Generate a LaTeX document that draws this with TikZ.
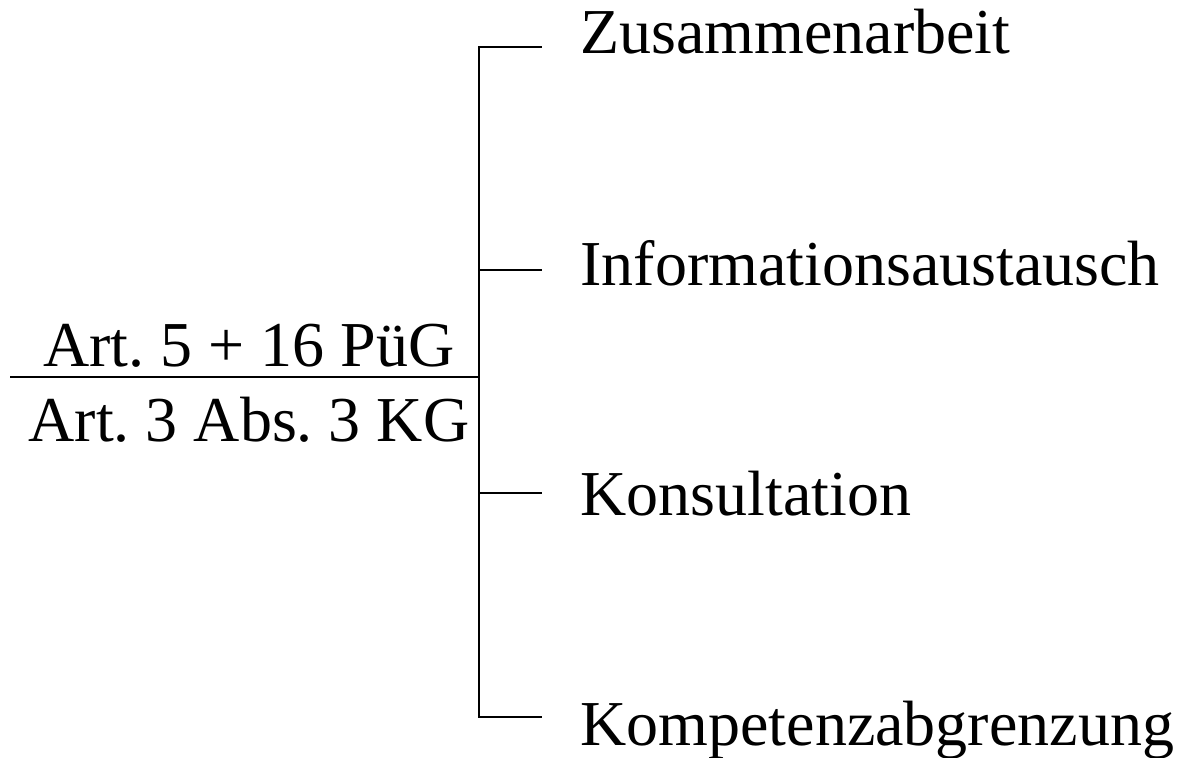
\documentclass[tikz,border=0pt]{standalone}
\usepackage{fontspec}
\setmainfont{Liberation Serif}
\usetikzlibrary{positioning}
\tikzset{
    law/.style={inner sep=0pt,anchor=base,font=\fontsize{32}{36}\selectfont},
    item/.style={inner sep=0pt,anchor=base west,font=\fontsize{32}{36}\selectfont},
    bar/.style={line width=1pt,line cap=rect},
}

\begin{document}
\begin{tikzpicture}[x=0.5pt,y=-0.5pt]
\useasboundingbox (0,0) rectangle (1178,758);

\node[law] (Pue) at (249,367) {Art.\ 5 + 16 PüG};
\node[law] (KG)  at (249,442) {Art.\ 3 Abs.\ 3 KG};

\coordinate (L)    at (11,377);
\coordinate (Fork) at (479,377);
\coordinate (B1) at (479,47);  \coordinate (E1) at (541,47);
\coordinate (B2) at (479,270); \coordinate (E2) at (541,270);
\coordinate (B3) at (479,493); \coordinate (E3) at (541,493);
\coordinate (B4) at (479,717); \coordinate (E4) at (541,717);

\node[item] (Zus)  at (580,54)  {Zusammenarbeit};
\node[item] (Info) at (580,286) {Informationsaustausch};
\node[item] (Kons) at (580,516) {Konsultation};
\node[item] (Komp) at (580,745) {Kompetenzabgrenzung};

\draw[bar] (L) -- (Fork);
\draw[bar] (E1) -- (B1) -- (B4) -- (E4);
\draw[bar] (B2) -- (E2);
\draw[bar] (B3) -- (E3);
\end{tikzpicture}
\end{document}
